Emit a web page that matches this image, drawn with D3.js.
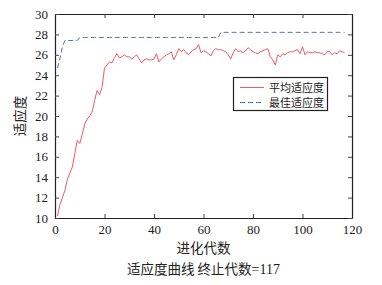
<!DOCTYPE html>
<html><head><meta charset="utf-8">
<script src="https://cdn.jsdelivr.net/npm/d3@7"></script>
<style>
body{margin:0;background:#fff;}
svg{display:block;}
</style></head>
<body>
<svg id="chart" width="382" height="285"></svg>
<script>
const generations = d3.range(1, 118);
const avgFitness = [
10.2,11.3,12.0,12.7,13.8,14.4,15.0,16.3,17.6,17.3,
18.2,19.2,19.7,20.0,20.4,21.5,22.5,22.1,22.8,24.7,
25.0,25.3,25.2,25.7,26.1,25.7,25.8,26.0,25.8,25.8,
25.6,25.8,26.0,25.6,25.2,25.5,25.6,25.5,25.5,25.6,
26.1,25.3,25.6,25.8,26.0,26.1,26.3,25.5,26.0,26.6,
26.3,26.5,26.2,26.0,26.3,26.5,26.6,27.0,26.2,26.4,
26.3,26.1,25.9,26.4,26.6,26.5,26.5,26.4,26.3,26.0,
25.6,26.2,26.6,26.3,26.4,26.2,26.4,26.7,26.5,26.3,
26.2,26.1,26.3,26.4,26.5,26.6,25.8,25.5,25.0,26.0,
25.8,26.1,26.0,26.2,26.3,26.3,26.4,26.5,26.1,26.8,
26.0,26.3,26.2,26.2,26.3,26.2,26.2,26.1,26.0,26.3,
26.3,26.0,26.2,26.1,26.4,26.3,26.2];
const bestFitness = [
24.7,25.65,26.8,27.4,27.4,27.4,27.4,27.4,27.4,27.7,
27.7,27.7,27.7,27.7,27.7,27.7,27.7,27.7,27.7,27.7,
27.7,27.7,27.7,27.7,27.7,27.7,27.7,27.7,27.7,27.7,
27.7,27.7,27.7,27.7,27.7,27.7,27.7,27.7,27.7,27.7,
27.7,27.7,27.7,27.7,27.7,27.7,27.7,27.7,27.7,27.7,
27.7,27.7,27.7,27.7,27.7,27.7,27.7,27.7,27.7,27.7,
27.7,27.7,27.7,27.7,27.7,27.7,28.2,28.2,28.2,28.2,
28.2,28.2,28.2,28.2,28.2,28.2,28.2,28.2,28.2,28.2,
28.2,28.2,28.2,28.2,28.2,28.2,28.2,28.2,28.2,28.2,
28.2,28.2,28.2,28.2,28.2,28.2,28.2,28.2,28.2,28.2,
28.2,28.2,28.2,28.2,28.2,28.2,28.2,28.2,28.2,28.2,
28.2,28.2,28.2,28.2,28.2,28.2,28.2];
const xTicks = [0,20,40,60,80,100,120];
const yTicks = [10,12,14,16,18,20,22,24,26,28,30];
const seriesNames = ["平均适应度","最佳适应度"];
const xLabel = "进化代数";
const yLabel = "适应度";
const titleText = "适应度曲线 终止代数";
const titleValue = "=117";

const L = 55, T = 14, W = 297, H = 204;
const svg = d3.select("#chart");
const x = d3.scaleLinear().domain([0,120]).range([L, L+W]);
const y = d3.scaleLinear().domain([10,30]).range([T+H, T]);
const numFont = "'Liberation Serif','Times New Roman',serif";
const cjkFont = "'Noto Sans CJK SC','Noto Sans',sans-serif";

const gB = svg.append("g").attr("transform",`translate(0,${T+H})`)
  .call(d3.axisBottom(x).tickValues(xTicks).tickSizeInner(-4).tickSizeOuter(0).tickPadding(7));
const gT = svg.append("g").attr("transform",`translate(0,${T})`)
  .call(d3.axisTop(x).tickValues(xTicks).tickSizeInner(-4).tickSizeOuter(0).tickFormat(""));
const gL = svg.append("g").attr("transform",`translate(${L},0)`)
  .call(d3.axisLeft(y).tickValues(yTicks).tickSizeInner(-4).tickSizeOuter(0).tickPadding(7));
const gR = svg.append("g").attr("transform",`translate(${L+W},0)`)
  .call(d3.axisRight(y).tickValues(yTicks).tickSizeInner(-4).tickSizeOuter(0).tickFormat(""));
[gB,gT,gL,gR].forEach(g=>{
  g.select(".domain").attr("stroke","#222").attr("stroke-width",1.2);
  g.selectAll(".tick line").attr("stroke","#444");
  g.selectAll("text").attr("font-family",numFont).attr("font-size",13).attr("fill","#222");
});

const lineGen = d3.line().x((d,i)=>x(generations[i])).y(d=>y(d));
svg.append("path").datum(avgFitness).attr("d",lineGen)
  .attr("fill","none").attr("stroke","#ec5a64").attr("stroke-width",1);
svg.append("path").datum(bestFitness).attr("d",lineGen)
  .attr("fill","none").attr("stroke","#52709e").attr("stroke-width",1).attr("stroke-dasharray","5,3");

const lg = svg.append("g");
lg.append("rect").attr("x",233.5).attr("y",77.5).attr("width",94).attr("height",33)
  .attr("fill","#fff").attr("stroke","#222").attr("stroke-width",1.2);
const legendColors = ["#ec5a64","#52709e"];
const legendDash = [null,"5,3"];
seriesNames.forEach((n,i)=>{
  const yy = 87.5 + i*15;
  lg.append("line").attr("x1",240).attr("x2",264).attr("y1",yy).attr("y2",yy)
    .attr("stroke",legendColors[i]).attr("stroke-width",1).attr("stroke-dasharray",legendDash[i]);
  lg.append("text").attr("x",269).attr("y",yy+4).text(n)
    .attr("font-family",cjkFont).attr("font-size",11).attr("fill","#222");
});

svg.append("text").attr("x",L+W/2).attr("y",253).attr("text-anchor","middle")
  .attr("font-family",cjkFont).attr("font-size",13.5).attr("fill","#222").text(xLabel);
const tt = svg.append("text").attr("x",L+W/2).attr("y",274).attr("text-anchor","middle")
  .attr("font-family",cjkFont).attr("font-size",13.5).attr("fill","#222");
tt.append("tspan").text(titleText);
tt.append("tspan").attr("font-family",numFont).attr("font-size",14).text(titleValue);
svg.append("text").attr("transform",`translate(25,${T+H/2}) rotate(-90)`).attr("text-anchor","middle")
  .attr("font-family",cjkFont).attr("font-size",13.5).attr("fill","#222").text(yLabel);
</script>
</body></html>
